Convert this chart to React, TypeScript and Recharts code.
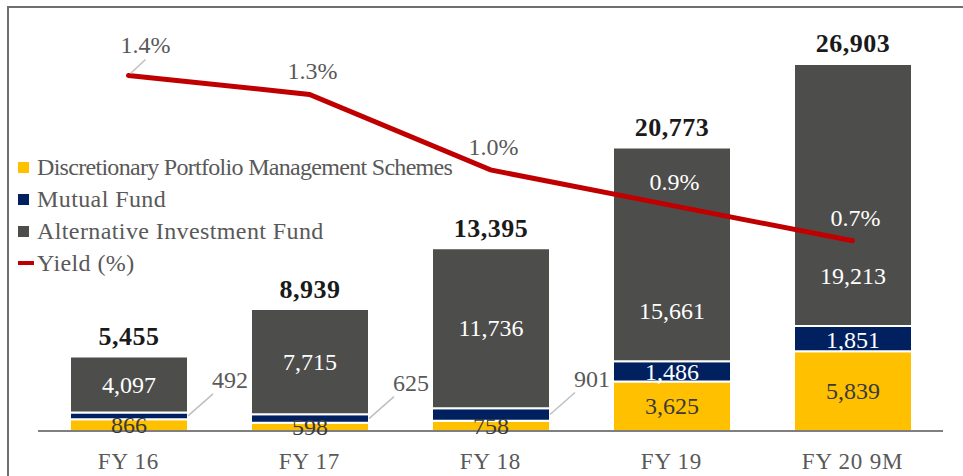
import React from "react";
import {
  ComposedChart,
  Bar,
  Line,
  XAxis,
  YAxis,
  LabelList,
} from "recharts";

const years = ["FY 16", "FY 17", "FY 18", "FY 19", "FY 20 9M"];
const dpms = [866, 598, 758, 3625, 5839];
const mutualFund = [492, 625, 901, 1486, 1851];
const aif = [4097, 7715, 11736, 15661, 19213];
const totals = [5455, 8939, 13395, 20773, 26903];
const yieldPct = [1.4, 1.32, 1.0, 0.85, 0.7];

const data = years.map((name, i) => ({
  name,
  dpms: dpms[i],
  mf: mutualFund[i],
  aif: aif[i],
  total: totals[i],
  yield: yieldPct[i],
}));

const FONT = "'Liberation Serif', 'DejaVu Serif', serif";
const YELLOW = "#FFC000";
const NAVY = "#002060";
const GREY = "#4D4D4B";
const RED = "#C00000";
const TEXT = "#595959";

const fmt = (v: number) => v.toLocaleString("en-US");

const legendItems = [
  { name: "Discretionary Portfolio Management Schemes", color: YELLOW, kind: "box", tight: true },
  { name: "Mutual Fund", color: NAVY, kind: "box" },
  { name: "Alternative Investment Fund", color: GREY, kind: "box" },
  { name: "Yield (%)", color: RED, kind: "line" },
];

function LegendBox() {
  return (
    <div style={{ position: "absolute", left: 18, top: 151, fontFamily: FONT, fontSize: 24, color: TEXT }}>
      {legendItems.map((it) => (
        <div key={it.name} style={{ display: "flex", alignItems: "center", height: 32 }}>
          {it.kind === "box" ? (
            <span style={{ width: 11, height: 11, background: it.color, marginRight: 8, display: "inline-block" }} />
          ) : (
            <span style={{ width: 16, height: 4, background: it.color, marginRight: 3, display: "inline-block" }} />
          )}
          <span style={{ letterSpacing: it.tight ? -0.7 : 0.4 }}>{it.name}</span>
        </div>
      ))}
    </div>
  );
}

function DpmsLabel(props: any) {
  const { x, y, width, height, value } = props;
  return (
    <text x={x + width / 2} y={y + height / 2} textAnchor="middle" dominantBaseline="central"
      fontFamily={FONT} fontSize={24} fill="#3a3a3a">
      {fmt(value)}
    </text>
  );
}

function MfLabel(props: any) {
  const { x, y, width, height, value } = props;
  const cy = y + height / 2;
  if (height < 15) {
    const ex = x + width;
    return (
      <g>
        <line x1={ex} y1={cy} x2={ex + 25} y2={cy - 22} stroke="#BFBFBF" strokeWidth={1.5} />
        <text x={ex + 42} y={cy - 36} textAnchor="middle" dominantBaseline="central"
          fontFamily={FONT} fontSize={24} fill={TEXT}>
          {fmt(value)}
        </text>
      </g>
    );
  }
  return (
    <text x={x + width / 2} y={cy + 1} textAnchor="middle" dominantBaseline="central"
      fontFamily={FONT} fontSize={24} fill="#fff">
      {fmt(value)}
    </text>
  );
}

function AifLabel(props: any) {
  const { x, y, width, height, value, index } = props;
  const ly = height > 200 ? y + height - 50 : y + height / 2;
  return (
    <g>
      <text x={x + width / 2} y={ly} textAnchor="middle" dominantBaseline="central"
        fontFamily={FONT} fontSize={24} fill="#fff">
        {fmt(value)}
      </text>
      <text x={x + width / 2} y={y - 20} textAnchor="middle" dominantBaseline="central"
        fontFamily={FONT} fontSize={26} fontWeight="bold" fill="#1a1a1a" letterSpacing={0.5}>
        {fmt(totals[index])}
      </text>
    </g>
  );
}

function YieldLabel(props: any) {
  const { x, y, value, index } = props;
  const txt = (Math.round(value * 10) / 10).toFixed(1) + "%";
  const fill = index >= 3 ? "#fff" : TEXT;
  if (index === 0) {
    return (
      <g>
        <line x1={x + 2} y1={y - 2} x2={x + 17} y2={y - 16} stroke="#BFBFBF" strokeWidth={1.5} />
        <text x={x + 17} y={y - 31} textAnchor="middle" dominantBaseline="central"
          fontFamily={FONT} fontSize={24} fill={fill}>
          {txt}
        </text>
      </g>
    );
  }
  return (
    <text x={x + 3} y={y - 23} textAnchor="middle" dominantBaseline="central"
      fontFamily={FONT} fontSize={24} fill={fill}>
      {txt}
    </text>
  );
}

export default function App() {
  return (
    <div style={{ position: "fixed", left: 0, top: 0, width: 963, height: 476, background: "#fff" }}>
      <div style={{ position: "absolute", left: 7, top: 6, right: 0, height: 2, background: "#6f6f6f" }} />
      <div style={{ position: "absolute", left: 7, top: 6, bottom: 0, width: 2, background: "#6f6f6f" }} />
      <ComposedChart
        width={963}
        height={476}
        data={data}
        margin={{ top: 8, right: 20, left: 38, bottom: 0 }}
        style={{ position: "absolute", left: 0, top: 0 }}
      >
        <XAxis
          dataKey="name"
          height={45}
          tickLine={false}
          axisLine={{ stroke: "#7F7F7F", strokeWidth: 2 }}
          tick={{ fill: TEXT, fontSize: 23, fontFamily: FONT, letterSpacing: 0.8 }}
          tickMargin={16}
        />
        <YAxis yAxisId="left" hide domain={[0, 31000]} />
        <YAxis yAxisId="right" orientation="right" hide domain={[-0.106, 1.686]} />
        <Bar yAxisId="left" dataKey="dpms" stackId="a" fill={YELLOW} stroke="#fff" strokeWidth={2}
          barSize={118} isAnimationActive={false}>
          <LabelList dataKey="dpms" content={DpmsLabel} />
        </Bar>
        <Bar yAxisId="left" dataKey="mf" stackId="a" fill={NAVY} stroke="#fff" strokeWidth={2}
          barSize={118} isAnimationActive={false}>
          <LabelList dataKey="mf" content={MfLabel} />
        </Bar>
        <Bar yAxisId="left" dataKey="aif" stackId="a" fill={GREY} stroke="#fff" strokeWidth={2}
          barSize={118} isAnimationActive={false}>
          <LabelList dataKey="aif" content={AifLabel} />
        </Bar>
        <Line yAxisId="right" dataKey="yield" type="linear" stroke={RED} strokeWidth={5}
          strokeLinecap="round" dot={false} activeDot={false} isAnimationActive={false}>
          <LabelList dataKey="yield" content={YieldLabel} />
        </Line>
      </ComposedChart>
      <LegendBox />
    </div>
  );
}
